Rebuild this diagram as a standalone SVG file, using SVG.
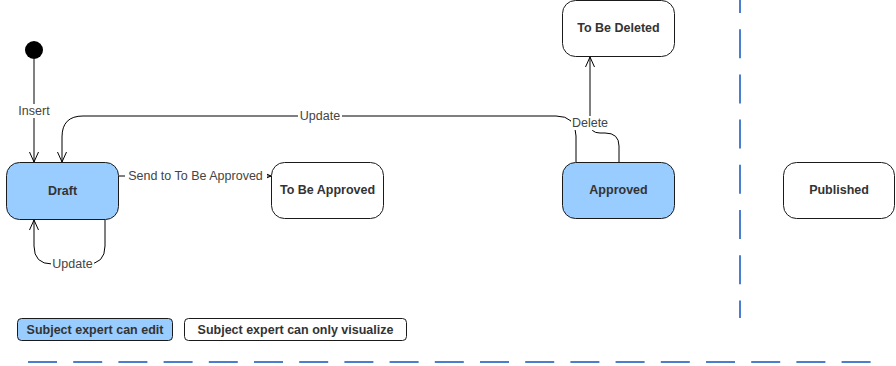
<svg xmlns="http://www.w3.org/2000/svg" width="896" height="366" viewBox="0 0 896 366">
<style>
.node{stroke:#1a1a1a;stroke-width:1;}
.edit{fill:#99CCFF;}
.view{fill:#ffffff;}
.nt{font-family:"Liberation Sans",Arial,sans-serif;font-size:12.5px;font-weight:bold;fill:#333;text-anchor:middle;dominant-baseline:central;}
.lt{font-family:"Liberation Sans",Arial,sans-serif;font-size:12.5px;fill:#444;text-anchor:middle;dominant-baseline:central;}
.edge{fill:none;stroke:#000;stroke-width:1;}
.lbg{fill:#fff;}
.sep{stroke:#4a7fd0;stroke-width:2;stroke-dasharray:29 16.2;fill:none;}
</style>
<defs>
<marker id="arr" markerWidth="12" markerHeight="10" refX="11" refY="5" orient="auto" markerUnits="userSpaceOnUse">
<path d="M1,0.5 L11,5 L1,9.5" fill="none" stroke="#000" stroke-width="1"/>
</marker>
</defs>
<g id="separators">
<line class="sep" x1="740" y1="0" x2="740" y2="318" stroke-dashoffset="16"/>
<line class="sep" x1="28" y1="362" x2="871" y2="362"/>
</g>
<g id="connectors">
<path class="edge" d="M34,59 L34,162" marker-end="url(#arr)"/>
<path class="edge" d="M576,162 L576,136 Q576,116 556,116 L83,116 Q62,116 62,137 L62,162" marker-end="url(#arr)"/>
<path class="edge" d="M619,162 L619,146 Q619,133 605,133 L600,133 Q590,133 590,123 L590,57" marker-end="url(#arr)"/>
<path class="edge" d="M119,176 L271,176" marker-end="url(#arr)"/>
<path class="edge" d="M105,220 L105,246 Q105,264 87,264 L52,264 Q34,264 34,246 L34,220" marker-end="url(#arr)"/>
<rect class="lbg" x="16" y="104" width="36" height="14"/>
<text class="lt" x="34" y="111">Insert</text>
<rect class="lbg" x="298" y="109" width="44" height="14"/>
<text class="lt" x="320" y="116">Update</text>
<rect class="lbg" x="571" y="116" width="38" height="14"/>
<text class="lt" x="590" y="123">Delete</text>
<rect class="lbg" x="125" y="169" width="142" height="14"/>
<text class="lt" x="195.5" y="176">Send to To Be Approved</text>
<rect class="lbg" x="51" y="257" width="43" height="14"/>
<text class="lt" x="72.5" y="264">Update</text>
</g>
<g id="initial">
<circle cx="34" cy="50" r="9" fill="#000"/>
</g>
<g id="draft">
<rect class="node edit" x="6.5" y="162.5" width="112" height="57" rx="13"/>
<text class="nt" x="62.5" y="191">Draft</text>
</g>
<g id="to-be-approved">
<rect class="node view" x="271.5" y="162.5" width="112" height="56" rx="13"/>
<text class="nt" x="327.5" y="190">To Be Approved</text>
</g>
<g id="approved">
<rect class="node edit" x="562.5" y="162.5" width="112" height="56" rx="13"/>
<text class="nt" x="618.5" y="190">Approved</text>
</g>
<g id="to-be-deleted">
<rect class="node view" x="562.5" y="0.5" width="112" height="56" rx="13"/>
<text class="nt" x="618.5" y="28">To Be Deleted</text>
</g>
<g id="published">
<rect class="node view" x="783.5" y="162.5" width="111" height="56" rx="13"/>
<text class="nt" x="839" y="190">Published</text>
</g>
<g id="legend-edit">
<rect class="node edit" x="17.5" y="318.5" width="155" height="22" rx="4"/>
<text class="nt" x="95" y="329.5">Subject expert can edit</text>
</g>
<g id="legend-view">
<rect class="node view" x="184.5" y="318.5" width="222" height="22" rx="4"/>
<text class="nt" x="295.5" y="329.5">Subject expert can only visualize</text>
</g>
</svg>
